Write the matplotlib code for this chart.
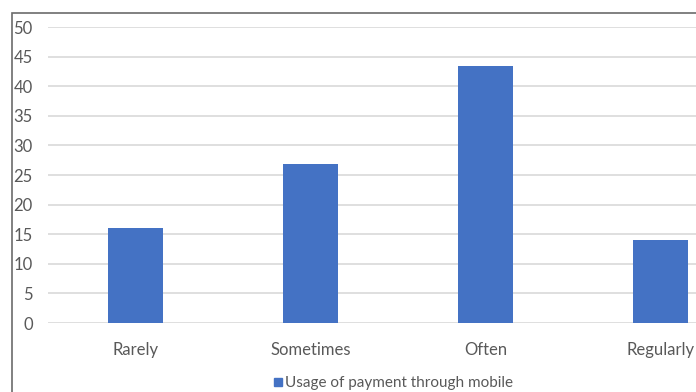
import numpy as np
import matplotlib.pyplot as plt
from matplotlib.patches import Rectangle

# data
categories = ["Rarely", "Sometimes", "Often", "Regularly"]
values = [16, 26.8, 43.4, 14]
series_name = "Usage of payment through mobile"
yticks = list(range(0, 55, 5))

plt.rcParams['font.family'] = ['Lato', 'DejaVu Sans']

W, H = 696, 392
fig = plt.figure(figsize=(W / 100, H / 100), dpi=100)

# outer chart border (right/bottom are cropped off in the reference)
fig.patches.append(Rectangle((12 / W, -0.1), 1.2, 1 - 13 / H + 0.1,
                             transform=fig.transFigure, fill=False,
                             edgecolor="#6b6b6b", linewidth=1.2))

# plot area: 48px left, 700px wide (wider than the image, so it's cut off)
y0, y50 = 323, 27
ax = fig.add_axes([48 / W, 1 - y0 / H, 700 / W, (y0 - y50) / H])

x = np.arange(len(categories))
ax.bar(x, values, width=0.314, color="#4472C4", zorder=3)

ax.set_xlim(-0.5, 3.5)
ax.set_ylim(0, 50)
ax.set_yticks(yticks)
ax.set_xticks(x)
ax.set_xticklabels(categories)
ax.yaxis.grid(True, color="#d9d9d9", linewidth=1.2, zorder=0)
for s in ax.spines.values():
    s.set_visible(False)
ax.tick_params(length=0, labelsize=12, labelcolor="#595959")
ax.tick_params(axis="y", pad=11)
ax.tick_params(axis="x", pad=14)

# legend
fig.patches.append(Rectangle((274 / W, 1 - 386 / H), 8 / W, 8 / H,
                             transform=fig.transFigure, color="#4472C4"))
fig.text(285 / W, 1 - 383 / H, series_name, fontsize=11, color="#595959",
         va="center", ha="left")

fig.savefig("out.png", dpi=100)
